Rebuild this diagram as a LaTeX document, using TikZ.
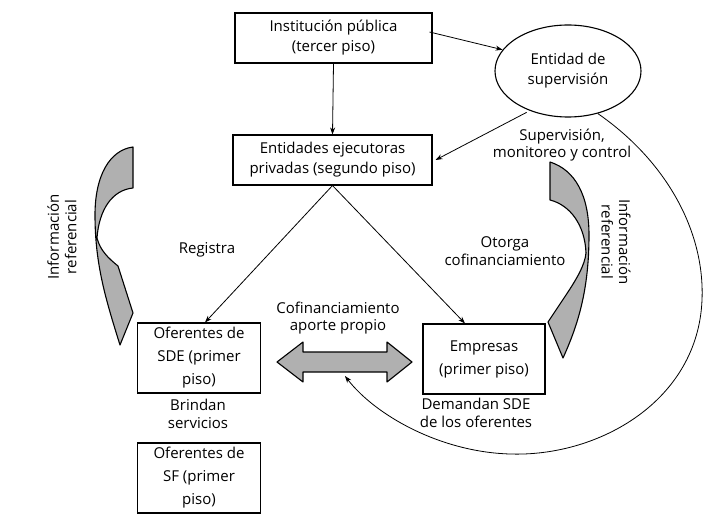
\documentclass[tikz,border=0pt]{standalone}
\usepackage{fontspec}
\setmainfont{Open Sans}
\usetikzlibrary{arrows.meta,calc,shapes.geometric}
\begin{document}
\begin{tikzpicture}[x=1pt,y=-1pt,
  box/.style={draw,line width=1.1pt,inner sep=0pt,align=center,font=\fontsize{15}{20}\selectfont},
  sbox/.style={box,font=\fontsize{15}{23}\selectfont},
  lbl/.style={inner sep=0pt,align=center,font=\fontsize{15}{17.5}\selectfont},
  conn/.style={line width=0.8pt,-{Stealth[length=7pt,width=5pt]}},
  bigarrow/.style={draw,line width=1.1pt,fill=gray!62,line join=round}]
\path[fill=white,use as bounding box] (0,0) rectangle (713,524);

% nodes
\node[box,minimum width=197pt,minimum height=50pt] (inst) at (333.5,38) {Institución pública\\(tercer piso)};
\node[draw,ellipse,line width=1.1pt,inner sep=0pt,minimum width=146pt,minimum height=92pt,align=center,font=\fontsize{15}{20}\selectfont] (ent) at (568,71) {Entidad de\\supervisión};
\node[box,minimum width=199pt,minimum height=50pt] (eje) at (332.5,160) {Entidades ejecutoras\\privadas (segundo piso)};
\node[sbox,minimum width=123pt,minimum height=70pt] (sde) at (199,358) {Oferentes de\\SDE (primer\\piso)};
\node[sbox,minimum width=123pt,minimum height=70pt] (sf) at (199,478) {Oferentes de\\SF (primer\\piso)};
\node[sbox,minimum width=122pt,minimum height=70pt] (emp) at (484,359) {Empresas\\(primer piso)};

% labels
\node[lbl] (reg) at (207,250) {Registra};
\node[lbl] (oto) at (505,251) {Otorga\\cofinanciamiento};
\node[lbl] (sup) at (562,145) {Supervisión,\\monitoreo y control};
\node[lbl] (cof) at (338,318) {Cofinanciamiento\\aporte propio};
\node[lbl] (bri) at (198,414) {Brindan\\servicios};
\node[lbl] (dem) at (476,413) {Demandan SDE\\de los oferentes};
\node[lbl,rotate=90] (infl) at (62,237) {Información\\referencial};
\node[lbl,rotate=-90] (infr) at (616,242) {Información\\referencial};

% connectors
\draw[conn] (inst.south) -- (eje.north);
\draw[conn] ($(inst.east)+(-3,-6)$) -- (ent.162);
\draw[conn] ($(ent.225)+(-2,2)$) -- ($(eje.east)+(3,0)$);
\draw[conn] (eje.south) -- ($(sde.north)+(6,0)$);
\draw[conn] (eje.south) -- ($(emp.north)+(-19,0)$);

% double arrow
\draw[bigarrow] (277,362) -- (303,342) -- (303,352) -- (387,352) -- (387,342) -- (412,362)
  -- (387,382) -- (387,372) -- (303,372) -- (303,382) -- cycle;
\coordinate (dblb) at (345,376);

% big return curve
\draw[conn] (ent.-55) .. controls (665,160) and (705,230) .. (702,300)
  .. controls (698,400) and (600,457) .. (510,454)
  .. controls (440,452) and (375,415) .. (dblb);

% left curved arrow
\draw[bigarrow] (133,147) .. controls (110,150) and (95,175) .. (95,215)
  .. controls (95,265) and (106,300) .. (120,345)
  -- (133,313) -- (118,266)
  .. controls (108,258) and (100,250) .. (97,238)
  .. controls (99,210) and (112,190) .. (133,188) -- cycle;

% right curved arrow
\draw[bigarrow] (550,162) .. controls (575,170) and (589,195) .. (589,235)
  .. controls (589,290) and (578,325) .. (563,358)
  -- (548,322) -- (566,295)
  .. controls (576,280) and (585,265) .. (586,253)
  .. controls (585,225) and (570,205) .. (550,200) -- cycle;
\end{tikzpicture}
\end{document}
